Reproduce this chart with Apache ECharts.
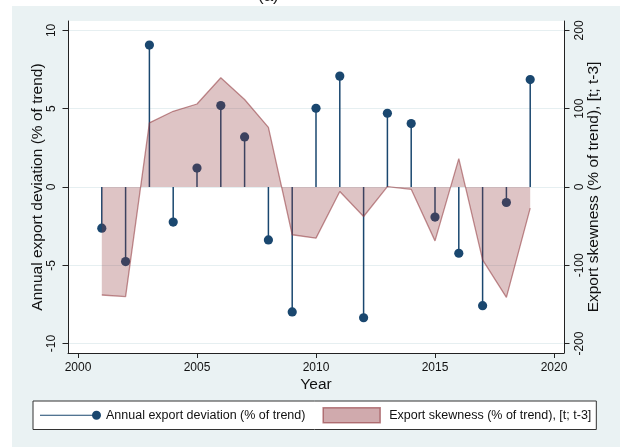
<!DOCTYPE html>
<html>
<head>
<meta charset="utf-8">
<script src="https://cdn.jsdelivr.net/npm/echarts@6/dist/echarts.min.js"></script>
<style>
  html, body { margin: 0; padding: 0; background: #ffffff; }
  #frame { position: absolute; left: 12px; top: 6px; width: 608px; height: 441px; background: #eaf2f3; }
  #chart { position: absolute; left: 0; top: 0; width: 620px; height: 447px; }
</style>
</head>
<body>
<div id="frame"></div>
<div id="chart"></div>
<script>
// Years on the horizontal axis
const years = [2001, 2002, 2003, 2004, 2005, 2006, 2007, 2008, 2009, 2010,
               2011, 2012, 2013, 2014, 2015, 2016, 2017, 2018, 2019];
// Annual export deviation (% of trend), left axis
const deviation = [-2.63, -4.76, 9.06, -2.24, 1.21, 5.2, 3.2, -3.38, -7.98, 5.03,
                   7.08, -8.35, 4.71, 4.05, -1.92, -4.23, -7.58, -0.99, 6.86];
// Export skewness (% of trend), [t; t-3], right axis
const skewness = [-137.9, -140, 81.9, 96.7, 106, 139.5, 111.7, 76.2, -61, -65.3,
                  -5.7, -37.7, 0.5, -3, -68.8, 36.2, -93, -141, -27];
// Tick labels
const xTicks = [2000, 2005, 2010, 2015, 2020];
const yLeftTicks = [-10, -5, 0, 5, 10];
const yRightTicks = [-200, -100, 0, 100, 200];

const devName = 'Annual export deviation (% of trend)';
const skewName = 'Export skewness (% of trend), [t; t-3]';

const navy = '#1a476f';
const font = '"Liberation Sans", Arial, sans-serif';
const axisColor = '#222';
const plain = v => String(v);

const devData = years.map((y, i) => [y, deviation[i]]);
const skewData = years.map((y, i) => [y, skewness[i]]);

const chart = echarts.init(document.getElementById('chart'), null, { renderer: 'canvas' });

chart.setOption({
  animation: false,
  backgroundColor: 'transparent',
  textStyle: { fontFamily: font },
  graphic: [{
    type: 'text',
    left: 258, top: -12,
    style: { text: '(a)', font: '17px ' + font, fill: '#222' }
  }],
  grid: {
    left: 68, top: 21, width: 496, height: 332,
    show: true, backgroundColor: '#ffffff', borderWidth: 0
  },
  legend: {
    left: 33, top: 401,
    padding: [6, 5, 6, 7],
    backgroundColor: '#ffffff',
    borderColor: '#333',
    borderWidth: 1,
    borderRadius: 0,
    itemWidth: 61, itemHeight: 15, itemGap: 17,
    symbolKeepAspect: true,
    selectedMode: false,
    textStyle: { fontFamily: font, fontSize: 12.5, color: '#111' },
    data: [
      {
        name: devName,
        icon: 'path://M0,4H56.5V5H0Z M52,4.5A4.5,4.5,0,1,1,61,4.5A4.5,4.5,0,1,1,52,4.5Z',
        itemStyle: { color: navy, borderWidth: 0 }
      },
      {
        name: skewName,
        icon: 'path://M0,0H57V15H0Z',
        itemStyle: { color: 'rgba(144,53,59,0.42)', borderColor: 'rgba(144,53,59,0.6)', borderWidth: 1.5 },
        textStyle: { padding: [0, 0, 0, 2] }
      }
    ]
  },
  xAxis: {
    type: 'value',
    min: 1999.58, max: 2020.42,
    name: 'Year',
    nameLocation: 'middle',
    nameGap: 24,
    nameMoveOverlap: false,
    nameTextStyle: { fontFamily: font, fontSize: 15.5, color: '#111' },
    axisLine: { show: true, onZero: false, lineStyle: { color: axisColor, width: 1 } },
    axisTick: { show: true, length: 5, customValues: xTicks, lineStyle: { color: axisColor } },
    axisLabel: { customValues: xTicks, formatter: plain, margin: 9, fontSize: 12, color: '#111', fontFamily: font },
    splitLine: { show: false }
  },
  yAxis: [
    {
      type: 'value',
      position: 'left',
      min: -10.6, max: 10.6,
      name: devName,
      nameLocation: 'middle',
      nameRotate: 90,
      nameGap: 22,
      nameMoveOverlap: false,
      nameTextStyle: { fontFamily: font, fontSize: 15.5, color: '#111' },
      axisLine: { show: true, onZero: false, lineStyle: { color: axisColor, width: 1 } },
      axisTick: { show: true, length: 5.5, customValues: yLeftTicks, lineStyle: { color: axisColor } },
      axisLabel: { customValues: yLeftTicks, formatter: plain, rotate: 90, margin: 10, fontSize: 12, color: '#111', fontFamily: font },
      splitLine: { show: true, lineStyle: { color: '#e6eff1', width: 1 } }
    },
    {
      type: 'value',
      position: 'right',
      min: -212, max: 212,
      name: skewName,
      nameLocation: 'middle',
      nameRotate: 90,
      nameGap: 22,
      nameMoveOverlap: false,
      nameTextStyle: { fontFamily: font, fontSize: 15.5, color: '#111' },
      axisLine: { show: true, onZero: false, lineStyle: { color: axisColor, width: 1 } },
      axisTick: { show: true, length: 5.5, customValues: yRightTicks, lineStyle: { color: axisColor } },
      axisLabel: { customValues: yRightTicks, formatter: plain, rotate: 90, margin: 10, fontSize: 12, color: '#111', fontFamily: font },
      splitLine: { show: false }
    }
  ],
  series: [
    {
      name: devName,
      type: 'custom',
      xAxisIndex: 0,
      yAxisIndex: 0,
      z: 2,
      itemStyle: { color: navy },
      encode: { x: 0, y: 1 },
      data: devData,
      renderItem: function (params, api) {
        const x = api.value(0);
        const v = api.value(1);
        const base = api.coord([x, 0]);
        const tip = api.coord([x, v]);
        return {
          type: 'group',
          children: [
            { type: 'line', shape: { x1: base[0], y1: base[1], x2: tip[0], y2: tip[1] },
              style: { stroke: navy, lineWidth: 1.5 } },
            { type: 'circle', shape: { cx: tip[0], cy: tip[1], r: 4.6 },
              style: { fill: navy } }
          ]
        };
      }
    },
    {
      name: skewName,
      type: 'line',
      xAxisIndex: 0,
      yAxisIndex: 1,
      z: 3,
      data: skewData,
      showSymbol: false,
      symbol: 'none',
      lineStyle: { color: 'rgba(144,53,59,0.55)', width: 1.3 },
      itemStyle: { color: 'rgba(144,53,59,0.42)' },
      areaStyle: { color: 'rgba(144,53,59,0.42)', origin: 0 }
    }
  ]
});
</script>
</body>
</html>
